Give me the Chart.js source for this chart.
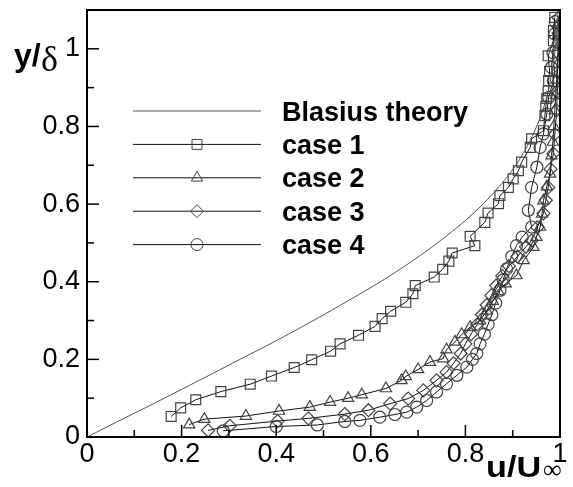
<!DOCTYPE html>
<html>
<head>
<meta charset="utf-8">
<script src="https://cdn.jsdelivr.net/npm/chart.js@4.4.1/dist/chart.umd.min.js"></script>
<style>
html, body { margin: 0; padding: 0; background: #fff; }
</style>
</head>
<body>
<canvas id="graph" width="573" height="487"></canvas>
<script>
// Blasius profile, u/Uinf vs y/delta
const blasiusU = [0, 0.0664, 0.1328, 0.1989, 0.2647, 0.3298, 0.3938, 0.4563, 0.5168, 0.5748, 0.6298, 0.6813,
    0.7290, 0.7725, 0.8115, 0.8461, 0.8761, 0.9018, 0.9233, 0.9411, 0.9555, 0.9670, 0.9759, 0.9827, 0.9878,
    0.9916, 0.9943, 0.9962];
const blasiusY = [0, 0.041, 0.081, 0.122, 0.163, 0.204, 0.244, 0.285, 0.326, 0.367, 0.407, 0.448,
    0.489, 0.530, 0.570, 0.611, 0.652, 0.692, 0.733, 0.774, 0.815, 0.855,
    0.896, 0.937, 0.978, 1.018, 1.059, 1.100];

const case1U = [0.178, 0.198, 0.230, 0.283, 0.345, 0.390, 0.438, 0.475, 0.515, 0.535, 0.574, 0.609, 0.624, 0.642,
    0.674, 0.689, 0.694, 0.734, 0.752, 0.765, 0.772, 0.820, 0.810, 0.841, 0.848, 0.870, 0.873, 0.891, 0.901,
    0.912, 0.919, 0.937, 0.940, 0.965, 0.968, 0.970, 0.972, 0.975, 0.976, 0.978, 0.975, 0.986, 0.986, 0.989];
const case1Y = [0.053, 0.075, 0.096, 0.117, 0.136, 0.157, 0.179, 0.199, 0.221, 0.240, 0.262, 0.285, 0.305, 0.324,
    0.347, 0.369, 0.390, 0.412, 0.432, 0.453, 0.474, 0.493, 0.517, 0.553, 0.577, 0.601, 0.622, 0.643, 0.665,
    0.686, 0.708, 0.746, 0.768, 0.789, 0.828, 0.852, 0.872, 0.892, 0.918, 0.942, 0.982, 1.021, 1.047, 1.081];

const case2U = [0.216, 0.248, 0.336, 0.406, 0.471, 0.514, 0.552, 0.581, 0.632, 0.665, 0.674, 0.700, 0.725, 0.753,
    0.760, 0.778, 0.792, 0.810, 0.831, 0.845, 0.858, 0.870, 0.885, 0.908, 0.923, 0.944, 0.950, 0.958, 0.962,
    0.965, 0.972, 0.979, 0.982, 0.985, 0.987, 0.989, 0.991, 0.993, 0.995, 0.996, 0.996, 0.996];
const case2Y = [0.032, 0.046, 0.054, 0.067, 0.077, 0.090, 0.100, 0.109, 0.125, 0.146, 0.156, 0.174, 0.193, 0.202,
    0.225, 0.245, 0.264, 0.283, 0.300, 0.325, 0.350, 0.375, 0.395, 0.416, 0.455, 0.489, 0.515, 0.541, 0.575,
    0.609, 0.645, 0.678, 0.725, 0.760, 0.800, 0.841, 0.880, 0.920, 0.960, 1.004, 1.035, 1.064];

const case3U = [0.256, 0.302, 0.403, 0.468, 0.545, 0.595, 0.641, 0.679, 0.711, 0.739, 0.760, 0.775, 0.790, 0.800,
    0.812, 0.825, 0.835, 0.845, 0.855, 0.865, 0.878, 0.892, 0.910, 0.928, 0.940, 0.952, 0.965, 0.970, 0.975,
    0.980, 0.986, 0.989, 0.993, 0.994, 0.995, 0.996, 0.997, 0.997];
const case3Y = [0.017, 0.029, 0.041, 0.048, 0.059, 0.069, 0.086, 0.099, 0.120, 0.146, 0.167, 0.190, 0.215, 0.240,
    0.265, 0.290, 0.315, 0.340, 0.365, 0.390, 0.415, 0.440, 0.465, 0.490, 0.506, 0.540, 0.576, 0.610, 0.643,
    0.690, 0.730, 0.780, 0.841, 0.890, 0.940, 0.990, 1.040, 1.080];

const case4U = [0.288, 0.400, 0.487, 0.545, 0.577, 0.619, 0.651, 0.676, 0.697, 0.718, 0.739, 0.760, 0.782, 0.803,
    0.815, 0.824, 0.831, 0.840, 0.848, 0.856, 0.864, 0.873, 0.880, 0.887, 0.898, 0.908, 0.920, 0.940, 0.933,
    0.940, 0.951, 0.958, 0.965, 0.972, 0.976, 0.986, 0.982, 0.985, 0.989, 0.990];
const case4Y = [0.016, 0.027, 0.031, 0.040, 0.043, 0.051, 0.058, 0.064, 0.077, 0.094, 0.116, 0.137, 0.159, 0.180,
    0.200, 0.215, 0.240, 0.265, 0.290, 0.315, 0.345, 0.378, 0.405, 0.433, 0.465, 0.493, 0.515, 0.541, 0.584,
    0.643, 0.695, 0.746, 0.781, 0.832, 0.875, 0.918, 0.952, 0.990, 1.038, 1.070];

const legendLabels = ['Blasius theory', 'case 1', 'case 2', 'case 3', 'case 4'];
const markerStyles = [false, 'rect', 'triangle', 'rectRot', 'circle'];
const markerSizes = [0, 7, 6.5, 6.5, 6];

const xTicks = [0, 0.2, 0.4, 0.6, 0.8, 1];
const yTicks = [0, 0.2, 0.4, 0.6, 0.8, 1];

function pts(us, ys) {
    return us.map((u, i) => ({x: u, y: ys[i]}));
}

const lineCol = '#111';
const markCol = '#444';

function caseSet(i, us, ys) {
    return {
        label: legendLabels[i],
        data: pts(us, ys),
        showLine: true,
        borderColor: lineCol,
        borderWidth: 1,
        pointStyle: markerStyles[i],
        pointRadius: markerSizes[i],
        pointBorderColor: markCol,
        pointBackgroundColor: 'rgba(0,0,0,0)',
        pointBorderWidth: 1.2,
        tension: 0
    };
}

function majorLabel(list) {
    return v => {
        const t = Math.round(v * 10);
        if (t % 2 !== 0) return '';
        return list.indexOf(t / 10) >= 0 ? String(t / 10) : '';
    };
}

const frame = {
    id: 'frame',
    afterDatasetsDraw(chart) {
        const ctx = chart.ctx;
        const a = chart.chartArea;
        ctx.save();
        ctx.strokeStyle = '#000';
        ctx.lineWidth = 1.5;
        // ticks point into the plot
        const xs = chart.scales.x, ys = chart.scales.y;
        xs.ticks.forEach(t => {
            const px = xs.getPixelForValue(t.value);
            const len = Math.round(t.value * 10) % 2 === 0 ? 12 : 7;
            ctx.beginPath();
            ctx.moveTo(px, a.bottom);
            ctx.lineTo(px, a.bottom - len);
            ctx.stroke();
        });
        ys.ticks.forEach(t => {
            const py = ys.getPixelForValue(t.value);
            const len = Math.round(t.value * 10) % 2 === 0 ? 12 : 7;
            ctx.beginPath();
            ctx.moveTo(a.left, py);
            ctx.lineTo(a.left + len, py);
            ctx.stroke();
        });
        ctx.lineWidth = 2;
        ctx.strokeRect(a.left, a.top, a.right - a.left, a.bottom - a.top);

        // legend
        legendLabels.forEach((lab, i) => {
            const ry = a.top + 101 + 33.4 * i;
            const x0 = a.left + 46, x1 = a.left + 174, xm = a.left + 110;
            ctx.lineWidth = 1;
            ctx.strokeStyle = i === 0 ? '#555' : lineCol;
            ctx.beginPath();
            ctx.moveTo(x0, ry);
            ctx.lineTo(x1, ry);
            ctx.stroke();
            if (markerStyles[i]) {
                ctx.strokeStyle = markCol;
                ctx.fillStyle = 'rgba(0,0,0,0)';
                Chart.helpers.drawPoint(ctx, {
                    pointStyle: markerStyles[i], radius: markerSizes[i], rotation: 0, borderWidth: 1.2
                }, xm, ry);
            }
            ctx.fillStyle = '#000';
            ctx.font = 'bold 27px "Liberation Sans", Arial, sans-serif';
            ctx.textAlign = 'left';
            ctx.textBaseline = 'alphabetic';
            ctx.fillText(lab, a.left + 195, ry + 9.5);
        });

        // axis titles
        ctx.fillStyle = '#000';
        ctx.textAlign = 'left';
        ctx.font = 'bold 32px "Liberation Sans", Arial, sans-serif';
        ctx.fillText('y/', 14, 66);
        ctx.font = '36px "Liberation Serif", serif';
        ctx.fillText('\u03b4', 41, 71);

        ctx.save();
        ctx.translate(486, 477);
        ctx.scale(1.18, 1);
        ctx.font = 'bold 29px "Liberation Sans", Arial, sans-serif';
        ctx.fillText('u/U', 0, 0);
        ctx.restore();
        ctx.font = '26px "Liberation Serif", serif';
        ctx.fillText('\u221e', 543, 478);
        ctx.restore();
    }
};

const tickFont = {family: '"Liberation Sans", Arial, sans-serif', size: 27, lineHeight: 1};

const config = {
    type: 'scatter',
    data: {
        datasets: [
            {
                label: legendLabels[0],
                data: pts(blasiusU, blasiusY),
                showLine: true,
                borderColor: '#555',
                borderWidth: 1,
                pointRadius: 0,
                cubicInterpolationMode: 'monotone'
            },
            caseSet(1, case1U, case1Y),
            caseSet(2, case2U, case2Y),
            caseSet(3, case3U, case3Y),
            caseSet(4, case4U, case4Y)
        ]
    },
    options: {
        responsive: false,
        animation: false,
        layout: {padding: {left: 0, right: 13, top: 10, bottom: 0}},
        plugins: {legend: {display: false}, tooltip: {enabled: false}},
        scales: {
            x: {
                type: 'linear',
                min: 0,
                max: 1,
                afterFit(s) { s.height = 50; s.paddingLeft = 0; s.paddingRight = 0; },
                grid: {display: false, drawTicks: false},
                border: {display: false},
                ticks: {
                    stepSize: 0.1, autoSkip: false, maxRotation: 0, padding: 4,
                    color: '#000', font: tickFont, callback: majorLabel(xTicks)
                }
            },
            y: {
                type: 'linear',
                min: 0,
                max: 1.1,
                afterFit(s) { s.width = 87; s.paddingTop = 0; s.paddingBottom = 0; },
                grid: {display: false, drawTicks: false},
                border: {display: false},
                ticks: {
                    stepSize: 0.1, autoSkip: false, padding: 7,
                    color: '#000', font: tickFont, callback: majorLabel(yTicks)
                }
            }
        }
    },
    plugins: [frame]
};

new Chart(document.getElementById('graph'), config);
</script>
</body>
</html>
